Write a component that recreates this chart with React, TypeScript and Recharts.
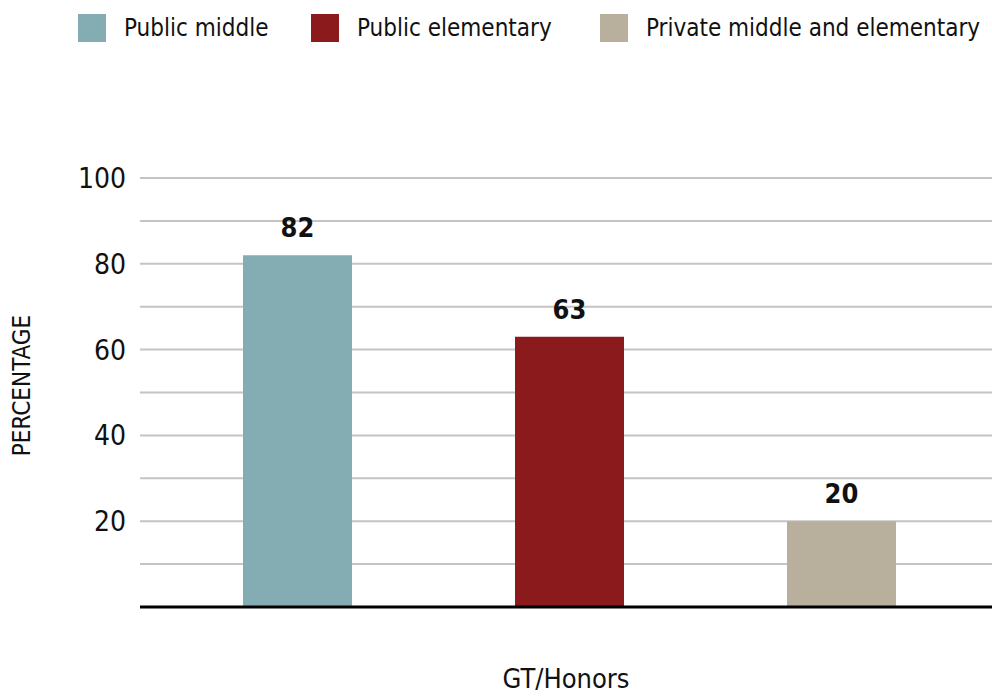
import React from 'react';
import { BarChart, Bar, XAxis, YAxis, CartesianGrid, Legend, LabelList } from 'recharts';

const categories = ['GT/Honors'];
const seriesNames = ['Public middle', 'Public elementary', 'Private middle and elementary'];
const publicMiddle = [82];
const publicElementary = [63];
const privateMiddleElementary = [20];
const yTicks = [0, 10, 20, 30, 40, 50, 60, 70, 80, 90, 100];
const colors = ['#83adb2', '#8b1a1d', '#b8af9c'];
const legendItemWidths = [233, 289, 392];

const data = categories.map((c, i) => ({
  category: c,
  pm: publicMiddle[i],
  pe: publicElementary[i],
  pr: privateMiddleElementary[i],
}));

const FONT = '"Liberation Sans Narrow", "DejaVu Sans Condensed", "Roboto Condensed", sans-serif';

const LegendContent = (props: any) => {
  const payload = [...(props.payload || [])].sort(
    (a: any, b: any) => seriesNames.indexOf(a.value) - seriesNames.indexOf(b.value)
  );
  return (
    <div style={{ display: 'flex', height: 60, paddingLeft: 78, fontFamily: FONT }}>
      {payload.map((p: any, i: number) => (
        <div key={i} style={{ display: 'flex', alignItems: 'center', width: legendItemWidths[i], height: 56, whiteSpace: 'nowrap', flexShrink: 0 }}>
          <span style={{ display: 'inline-block', width: 28, height: 28, background: p.color, marginRight: 18, flexShrink: 0 }} />
          <span style={{ fontSize: 24, color: '#111' }}>{p.value}</span>
        </div>
      ))}
    </div>
  );
};

const YLabel = (props: any) => {
  const vb = props.viewBox || {};
  const cy = vb.y + vb.height / 2 - 7;
  return (
    <text
      x={22}
      y={cy}
      transform={`rotate(-90, 22, ${cy})`}
      textAnchor="middle"
      dominantBaseline="central"
      style={{ fontSize: 24, fill: '#111', fontFamily: FONT }}
    >
      PERCENTAGE
    </text>
  );
};

export default function App() {
  return (
    <div style={{ position: 'absolute', left: 0, top: 0, width: 992, height: 696, background: '#fff' }}>
      <BarChart
        width={992}
        height={696}
        data={data}
        margin={{ top: 118, right: 0, bottom: 0, left: 0 }}
        barSize={109}
        barGap={163}
      >
        <CartesianGrid vertical={false} stroke="#c4c4c4" strokeWidth={2} />
        <XAxis
          dataKey="category"
          tick={false}
          tickLine={false}
          padding={{ left: 6, right: 0 }}
          axisLine={{ stroke: '#000', strokeWidth: 3 }}
          height={89}
          label={{ value: 'GT/Honors', position: 'insideBottom', offset: 8, style: { fontSize: 27, fill: '#111', fontFamily: FONT } }}
        />
        <YAxis
          domain={[0, 100]}
          ticks={yTicks}
          interval={0}
          width={140}
          axisLine={false}
          tickLine={false}
          tickSize={0}
          tickMargin={14}
          tickFormatter={(v: number) => (v % 20 === 0 && v !== 0 ? String(v) : '')}
          tick={{ fontSize: 28, fill: '#111', fontFamily: FONT }}
          label={<YLabel />}
        />
        <Legend verticalAlign="top" align="left" content={<LegendContent />} wrapperStyle={{ top: 0, left: 0, width: 992 }} />
        <Bar dataKey="pm" name={seriesNames[0]} fill={colors[0]} isAnimationActive={false}>
          <LabelList dataKey="pm" position="top" offset={18} style={{ fontSize: 27, fontWeight: 'bold', fill: '#111', fontFamily: FONT }} />
        </Bar>
        <Bar dataKey="pe" name={seriesNames[1]} fill={colors[1]} isAnimationActive={false}>
          <LabelList dataKey="pe" position="top" offset={18} style={{ fontSize: 27, fontWeight: 'bold', fill: '#111', fontFamily: FONT }} />
        </Bar>
        <Bar dataKey="pr" name={seriesNames[2]} fill={colors[2]} isAnimationActive={false}>
          <LabelList dataKey="pr" position="top" offset={18} style={{ fontSize: 27, fontWeight: 'bold', fill: '#111', fontFamily: FONT }} />
        </Bar>
      </BarChart>
    </div>
  );
}
